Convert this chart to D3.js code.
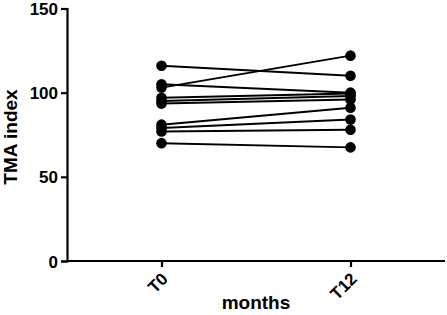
<!DOCTYPE html>
<html><head><meta charset="utf-8">
<script src="https://cdn.jsdelivr.net/npm/d3@7"></script>
<style>body{margin:0;background:#fff}svg{display:block}</style>
</head><body>
<svg id="c" width="447" height="315"></svg>
<script>
const categories = ["T0", "T12"];
const t0Values  = [116, 103, 105, 97, 95, 93.5, 81, 79, 77, 70];
const t12Values = [110, 122, 100, 99.5, 98, 96, 91, 84, 78, 67.5];
const yTicks = [0, 50, 100, 150];
const xTitle = "months";
const yTitle = "TMA index";

const subjects = t0Values.map((v, i) => [v, t12Values[i]]);
const svg = d3.select("#c");
const font = "'Liberation Sans', Arial, sans-serif";
const x = d3.scalePoint().domain(categories).range([67, 445]).padding(0.5);
const y = d3.scaleLinear().domain([0, 150]).range([261, 8.5]);

// axes
const yAxis = svg.append("g").attr("transform", "translate(67,0)")
  .call(d3.axisLeft(y).tickValues(yTicks).tickSize(6).tickPadding(3));
const xAxis = svg.append("g").attr("transform", "translate(0,261)")
  .call(d3.axisBottom(x).tickSize(6).tickSizeOuter(0));
[yAxis, xAxis].forEach(g => {
  g.select(".domain").attr("stroke", "#000").attr("stroke-width", 2.2);
  g.selectAll(".tick line").attr("stroke", "#000").attr("stroke-width", 2.2);
  g.selectAll("text").attr("font-family", font).attr("font-weight", "bold")
    .attr("font-size", 17).attr("fill", "#000");
});
xAxis.select(".domain").attr("d", "M67,0H445");
yAxis.selectAll(".tick text").attr("x", -9).attr("dy", "0.36em");
xAxis.selectAll(".tick text")
  .attr("text-anchor", "end").attr("dy", null).attr("y", 0)
  .attr("transform", "translate(7,19) rotate(-45)");

// lines + dots
const g = svg.append("g");
subjects.forEach(s => {
  g.append("path")
    .attr("d", d3.line().x((d, i) => x(categories[i])).y(d => y(d))(s))
    .attr("stroke", "#000").attr("stroke-width", 2).attr("fill", "none");
  g.selectAll(null).data(s).enter().append("circle")
    .attr("cx", (d, i) => x(categories[i])).attr("cy", d => y(d))
    .attr("r", 5.3).attr("fill", "#000");
});

// titles
svg.append("text").attr("x", 256).attr("y", 309).attr("text-anchor", "middle")
  .attr("font-family", font).attr("font-weight", "bold").attr("font-size", 19)
  .text(xTitle);
svg.append("text").attr("transform", "translate(17,137) rotate(-90)")
  .attr("text-anchor", "middle")
  .attr("font-family", font).attr("font-weight", "bold").attr("font-size", 19)
  .text(yTitle);
</script>
</body></html>
